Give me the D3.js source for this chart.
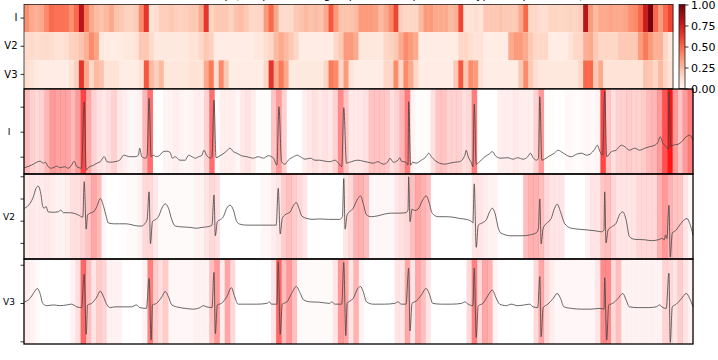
<!DOCTYPE html>
<html>
<head>
<meta charset="utf-8">
<script src="https://cdn.jsdelivr.net/npm/d3@7"></script>
<style>
body{margin:0;background:#fff}
text{font-family:"DejaVu Sans",sans-serif}
</style>
</head>
<body>
<svg id="chart"></svg>
<script>
var screen = {width:718,height:360}

// lead names and the colourbar ticks
var leads = ["I","V2","V3"]
var barTicks = [0,0.25,0.5,0.75,1]

// relevance per time bin (130 bins over 10 s), one array per lead
var heatI = [0.38,0.3,0.28,0.3,0.4,0.5,0.47,0.47,0.46,0.38,
  0.5,0.8,0.45,0.3,0.24,0.22,0.25,0.3,0.22,0.2,
  0.17,0.17,0.19,0.4,0.65,0.1,0.12,0.18,0.18,0.2,
  0.18,0.17,0.18,0.2,0.2,0.3,0.65,0.15,0.2,0.2,
  0.2,0.17,0.22,0.24,0.2,0.15,0.15,0.15,0.35,0.5,
  0.3,0.13,0.13,0.13,0.2,0.22,0.25,0.22,0.24,0.22,
  0.3,0.55,0.35,0.22,0.22,0.22,0.25,0.35,0.35,0.35,
  0.33,0.25,0.3,0.4,0.6,0.18,0.15,0.15,0.15,0.25,
  0.35,0.35,0.3,0.3,0.3,0.25,0.28,0.6,0.1,0.1,
  0.12,0.1,0.2,0.2,0.2,0.22,0.2,0.2,0.2,0.3,
  0.5,0.15,0.15,0.12,0.12,0.16,0.16,0.15,0.16,0.17,
  0.16,0.18,0.8,0.35,0.25,0.3,0.3,0.32,0.3,0.3,
  0.32,0.38,0.4,0.5,0.75,0.97,0.5,0.35,0.5,0.6]
var heatV2 = [0.13,0.14,0.12,0.13,0.14,0.12,0.1,0.1,0.12,0.17,
  0.18,0.22,0.28,0.4,0.32,0.08,0.05,0.05,0.05,0.06,
  0.07,0.07,0.1,0.2,0.2,0.14,0.07,0.07,0.07,0.07,
  0.07,0.07,0.07,0.1,0.1,0.15,0.2,0.17,0.05,0.05,
  0.05,0.05,0.05,0.05,0.05,0.05,0.08,0.08,0.12,0.15,
  0.25,0.3,0.25,0.2,0.15,0.05,0.05,0.05,0.05,0.05,
  0.05,0.05,0.15,0.2,0.35,0.35,0.3,0.08,0.08,0.08,
  0.08,0.08,0.15,0.17,0.2,0.3,0.4,0.35,0.3,0.05,
  0.05,0.05,0.05,0.05,0.05,0.05,0.05,0.15,0.15,0.12,
  0.1,0.1,0.05,0.05,0.05,0.05,0.05,0.3,0.35,0.35,
  0.3,0.2,0.15,0.15,0.15,0.05,0.05,0.05,0.05,0.1,
  0.15,0.15,0.28,0.3,0.2,0.15,0.15,0.15,0.15,0.2,
  0.2,0.2,0.2,0.35,0.45,0.35,0.28,0.28,0.15,0.08]
var heatV3 = [0.12,0.1,0.07,0.05,0.05,0.05,0.05,0.05,0.05,0.1,
  0.18,0.65,0.3,0.15,0.25,0.22,0.1,0.1,0.1,0.05,
  0.05,0.05,0.05,0.1,0.55,0.25,0.18,0.25,0.08,0.08,
  0.08,0.08,0.08,0.1,0.1,0.1,0.3,0.45,0.12,0.4,
  0.2,0.05,0.05,0.05,0.05,0.05,0.05,0.05,0.15,0.65,
  0.3,0.45,0.3,0.07,0.07,0.07,0.07,0.07,0.07,0.07,
  0.15,0.45,0.4,0.15,0.35,0.1,0.05,0.05,0.05,0.05,
  0.05,0.05,0.15,0.15,0.4,0.15,0.4,0.3,0.15,0.05,
  0.05,0.05,0.05,0.05,0.05,0.05,0.2,0.55,0.2,0.4,
  0.35,0.1,0.05,0.05,0.05,0.05,0.05,0.05,0.05,0.2,
  0.4,0.2,0.12,0.08,0.08,0.08,0.08,0.08,0.08,0.08,
  0.08,0.15,0.5,0.5,0.2,0.3,0.1,0.1,0.1,0.1,
  0.1,0.1,0.1,0.1,0.22,0.2,0.15,0.25,0.15,0.1]

// ECG traces as [seconds, mV]
var ecgI = [[0.01,-0.22],[0.14,-0.15],[0.19,-0.11],[0.24,-0.09],[0.29,-0.13],[0.32,-0.11],[0.36,-0.2],[0.41,-0.23],
  [0.49,-0.19],[0.54,-0.22],[0.61,-0.2],[0.66,-0.23],[0.71,-0.17],[0.75,-0.09],[0.79,-0.2],[0.86,-0.23],
  [0.9,1.1],[0.93,-0.27],[0.96,-0.22],[1.04,-0.17],[1.09,-0.13],[1.14,-0.1],[1.2,0],[1.24,-0.1],
  [1.29,-0.11],[1.36,-0.1],[1.43,-0.07],[1.49,0.03],[1.58,0],[1.66,0],[1.71,0.03],[1.73,0.17],
  [1.76,0],[1.82,-0.03],[1.84,0.03],[1.87,1.17],[1.9,0],[1.93,0.03],[1.98,0],[2.03,0.03],
  [2.08,0.1],[2.13,0.11],[2.18,0.09],[2.22,-0.03],[2.26,0],[2.33,-0.07],[2.41,-0.07],[2.46,0.03],
  [2.51,0],[2.56,-0.03],[2.61,0],[2.66,0.03],[2.69,0.13],[2.73,0.03],[2.78,-0.03],[2.81,0],
  [2.84,1.13],[2.87,-0.02],[2.93,0.02],[2.99,0.07],[3.04,0.13],[3.08,0.17],[3.13,0.1],[3.18,0.07],
  [3.25,0.02],[3.33,0],[3.43,-0.03],[3.5,0],[3.58,-0.03],[3.65,0.02],[3.73,-0.03],[3.78,-0.17],
  [3.81,1.0],[3.85,-0.1],[3.9,-0.15],[3.95,-0.07],[4.03,0],[4.08,0.03],[4.13,0],[4.2,-0.05],
  [4.28,-0.03],[4.35,-0.07],[4.42,-0.07],[4.5,-0.09],[4.57,-0.1],[4.65,-0.07],[4.7,-0.13],[4.75,-0.2],
  [4.78,0.98],[4.82,-0.13],[4.87,-0.11],[4.99,-0.07],[5.07,-0.09],[5.14,-0.11],[5.22,-0.13],[5.29,-0.1],
  [5.37,-0.15],[5.44,-0.1],[5.47,-0.03],[5.52,-0.11],[5.59,-0.07],[5.62,-0.02],[5.64,-0.09],[5.71,-0.11],
  [5.74,-0.17],[5.75,1.1],[5.78,-0.17],[5.81,-0.11],[5.86,-0.13],[5.94,-0.07],[6.01,0],[6.05,0.07],
  [6.09,0],[6.14,-0.07],[6.21,-0.13],[6.29,-0.15],[6.36,-0.13],[6.44,-0.11],[6.51,-0.1],[6.59,0.03],
  [6.61,0.13],[6.64,0],[6.69,-0.13],[6.71,-0.2],[6.73,1.05],[6.76,-0.15],[6.81,-0.1],[6.89,0],
  [6.95,0.05],[7.0,0.1],[7.06,0],[7.13,-0.03],[7.23,-0.02],[7.31,-0.05],[7.38,-0.02],[7.46,-0.05],
  [7.53,0],[7.57,0.07],[7.61,-0.02],[7.66,-0.07],[7.69,-0.03],[7.71,1.2],[7.74,-0.07],[7.78,-0.05],
  [7.86,0.02],[7.93,0.07],[7.98,0.13],[8.03,0.1],[8.11,0.03],[8.18,0],[8.26,0.05],[8.33,0.07],
  [8.41,0.03],[8.48,0.07],[8.54,0.17],[8.57,0.23],[8.61,0.1],[8.65,0.03],[8.68,1.31],[8.71,0],
  [8.78,0.1],[8.85,0.13],[8.93,0.23],[8.98,0.2],[9.05,0.13],[9.13,0.17],[9.2,0.13],[9.28,0.17],
  [9.35,0.2],[9.43,0.23],[9.48,0.3],[9.51,0.4],[9.55,0.27],[9.6,0.2],[9.63,0.15],[9.64,1.31],
  [9.67,0.2],[9.7,0.23],[9.78,0.25],[9.83,0.3],[9.9,0.4],[9.95,0.43],[10.0,0.33]]
var ecgV2 = [[0.01,0.28],[0.09,0.39],[0.14,0.54],[0.18,0.73],[0.21,0.78],[0.25,0.62],[0.28,0.32],[0.3,0.28],
  [0.33,0.32],[0.36,0.2],[0.44,0.19],[0.51,0.2],[0.55,0.24],[0.59,0.18],[0.66,0.18],[0.74,0.17],
  [0.81,0.13],[0.88,0.08],[0.9,0.88],[0.93,-0.19],[0.95,0.13],[0.99,0.17],[1.04,0.2],[1.09,0.32],
  [1.14,0.5],[1.19,0.32],[1.23,0.09],[1.26,-0.05],[1.34,-0.07],[1.43,-0.07],[1.53,-0.07],[1.63,-0.1],
  [1.71,-0.12],[1.76,-0.12],[1.81,-0.06],[1.84,0.02],[1.87,0.65],[1.89,-0.52],[1.92,-0.02],[1.96,0.02],
  [2.01,0.09],[2.06,0.28],[2.11,0.38],[2.16,0.28],[2.21,0.02],[2.26,-0.12],[2.36,-0.14],[2.48,-0.15],
  [2.58,-0.17],[2.66,-0.15],[2.73,-0.14],[2.81,-0.1],[2.84,0.58],[2.86,-0.34],[2.89,-0.02],[2.93,0.02],
  [2.98,0.09],[3.03,0.28],[3.08,0.35],[3.13,0.24],[3.18,-0.02],[3.23,-0.08],[3.33,-0.1],[3.43,-0.1],
  [3.53,-0.1],[3.63,-0.1],[3.71,-0.1],[3.77,-0.1],[3.8,0.73],[3.83,-0.3],[3.86,0.05],[3.9,0.13],
  [3.98,0.2],[4.03,0.35],[4.07,0.41],[4.11,0.28],[4.15,0.11],[4.23,0.05],[4.32,0.03],[4.42,0.04],
  [4.55,0.03],[4.62,0.03],[4.72,0.03],[4.76,0.09],[4.78,0.95],[4.8,-0.19],[4.83,0.13],[4.92,0.28],
  [4.99,0.5],[5.03,0.56],[5.07,0.39],[5.12,0.13],[5.19,0.09],[5.29,0.11],[5.39,0.15],[5.49,0.17],
  [5.59,0.17],[5.71,0.18],[5.74,0.24],[5.75,0.99],[5.77,-0.02],[5.8,0.26],[5.84,0.23],[5.89,0.26],
  [5.96,0.47],[6.01,0.56],[6.06,0.39],[6.1,0.17],[6.19,0.09],[6.29,0.09],[6.41,0.08],[6.51,0.05],
  [6.61,0.03],[6.69,-0.02],[6.71,-0.05],[6.73,0.83],[6.76,-0.6],[6.79,-0.1],[6.85,-0.05],[6.91,0.02],
  [6.96,0.2],[7.0,0.28],[7.04,0.17],[7.09,-0.17],[7.13,-0.28],[7.28,-0.34],[7.43,-0.34],[7.56,-0.32],
  [7.66,-0.27],[7.69,-0.17],[7.71,0.49],[7.73,-0.52],[7.76,-0.17],[7.81,-0.06],[7.88,0.05],[7.93,0.28],
  [7.97,0.37],[8.02,0.2],[8.08,-0.06],[8.18,-0.17],[8.28,-0.19],[8.43,-0.21],[8.55,-0.23],[8.63,-0.25],
  [8.67,-0.21],[8.68,0.65],[8.7,-0.5],[8.73,-0.21],[8.78,-0.14],[8.85,-0.06],[8.9,0.13],[8.95,0.2],
  [9.0,0.02],[9.05,-0.36],[9.13,-0.42],[9.28,-0.43],[9.38,-0.45],[9.48,-0.43],[9.54,-0.4],[9.57,-0.43],
  [9.59,-0.32],[9.61,-0.4],[9.64,0.35],[9.66,-0.82],[9.69,-0.28],[9.75,-0.21],[9.8,-0.1],[9.87,0.02],
  [9.91,0.05],[9.95,-0.06],[10.0,-0.32]]
var ecgV3 = [[0.01,0.03],[0.09,0.12],[0.14,0.25],[0.2,0.38],[0.24,0.25],[0.28,-0.01],[0.34,-0.07],[0.44,-0.05],
  [0.54,-0.07],[0.64,-0.05],[0.71,-0.03],[0.79,-0.1],[0.86,-0.12],[0.9,0.75],[0.93,-0.82],[0.95,-0.05],
  [1.01,-0.01],[1.09,0.16],[1.14,0.31],[1.19,0.16],[1.24,-0.05],[1.29,-0.12],[1.36,-0.1],[1.48,-0.1],
  [1.61,-0.1],[1.68,-0.05],[1.73,-0.12],[1.83,-0.14],[1.87,0.64],[1.9,-0.97],[1.92,-0.05],[1.98,-0.01],
  [2.06,0.16],[2.11,0.3],[2.16,0.16],[2.21,-0.05],[2.28,-0.1],[2.41,-0.14],[2.53,-0.16],[2.63,-0.12],
  [2.68,-0.07],[2.73,-0.1],[2.81,-0.12],[2.84,0.8],[2.86,-0.8],[2.89,-0.05],[2.95,-0.01],[3.03,0.16],
  [3.1,0.4],[3.15,0.16],[3.2,-0.03],[3.33,-0.03],[3.48,-0.03],[3.63,-0.01],[3.67,0.03],[3.7,-0.03],
  [3.78,-0.03],[3.8,1.08],[3.83,-0.82],[3.86,-0.03],[3.93,0.03],[4.0,0.25],[4.07,0.43],[4.13,0.25],
  [4.18,0.08],[4.28,0.03],[4.42,0.02],[4.57,-0.01],[4.6,0.03],[4.65,-0.03],[4.75,-0.03],[4.78,1.06],
  [4.81,-0.85],[4.83,-0.01],[4.92,0.12],[4.99,0.38],[5.03,0.43],[5.07,0.3],[5.12,0.03],[5.22,-0.03],
  [5.39,-0.03],[5.54,-0.01],[5.59,0.03],[5.64,-0.03],[5.71,-0.03],[5.75,0.91],[5.77,-0.73],[5.8,-0.01],
  [5.86,0.05],[5.94,0.21],[6.01,0.38],[6.06,0.23],[6.11,-0.01],[6.24,-0.03],[6.39,-0.03],[6.54,-0.01],
  [6.59,0.03],[6.64,-0.03],[6.71,-0.07],[6.73,0.91],[6.76,-0.9],[6.79,-0.07],[6.86,-0.01],[6.94,0.21],
  [7.0,0.34],[7.05,0.16],[7.11,-0.03],[7.21,-0.07],[7.28,-0.03],[7.38,-0.07],[7.48,-0.05],[7.56,-0.03],
  [7.61,-0.1],[7.68,-0.12],[7.71,0.69],[7.73,-0.88],[7.76,-0.12],[7.83,-0.03],[7.91,0.12],[7.97,0.25],
  [8.02,0.12],[8.07,-0.1],[8.18,-0.14],[8.33,-0.16],[8.48,-0.16],[8.61,-0.14],[8.67,-0.16],[8.68,0.66],
  [8.71,-0.97],[8.74,-0.05],[8.8,-0.01],[8.88,0.12],[8.95,0.25],[9.0,0.08],[9.05,-0.1],[9.18,-0.12],
  [9.33,-0.12],[9.45,-0.1],[9.5,-0.05],[9.55,-0.12],[9.6,-0.14],[9.64,0.78],[9.66,-1.03],[9.69,-0.1],
  [9.75,-0.03],[9.83,0.12],[9.9,0.25],[9.95,0.12],[10.0,-0.1]]

var heatRows = [heatI,heatV2,heatV3]
var ecgRows = [ecgI,ecgV2,ecgV3]

// y domains (mV) and tick marks of the three ECG panels
var ecgDomains = [[-0.346,1.354],[-0.863,1.052],[-1.07,1.149]]
var ecgTicks = [[0,0.5,1],[-0.5,0,0.5,1],[-1,0,1]]
// relevance below which a panel background stays white
var shadeFloor = [0.14,0.05,0.05]

var svg = d3.select("#chart")
  .attr("width",screen.width)
  .attr("height",screen.height)

var nBins = heatI.length
var binWidth = 10/nBins

var drawTitle = function()
{
    svg.append("text")
       .attr("x",365)
       .attr("y",-1.5)
       .attr("text-anchor","middle")
       .style("font-size","11px")
       .text("Relevance map (sample 1, lead group I, V2, V3, predicted: typ ANT, prob. 0.93)")
}

var drawHeatmap = function()
{
    var xScale = d3.scaleLinear().domain([0,10]).range([24,673])
    var yScale = d3.scaleBand().domain(leads).range([4,88.5])
    var color = d3.scaleSequential(d3.interpolateReds).domain([0,1])

    var g = svg.append("g").attr("id","heat")

    g.selectAll("g.row")
     .data(heatRows)
     .enter()
     .append("g")
     .attr("class","row")
     .each(function(row,r)
     {
        d3.select(this)
          .selectAll("rect")
          .data(row)
          .enter()
          .append("rect")
          .attr("x",function(v,i){return xScale(i*binWidth)})
          .attr("y",yScale(leads[r]))
          .attr("width",xScale(binWidth)-xScale(0)+0.4)
          .attr("height",yScale.bandwidth())
          .attr("fill",function(v){return color(v)})
     })

    g.append("rect")
     .attr("x",24).attr("y",4.5)
     .attr("width",649).attr("height",84)
     .attr("fill","none")
     .attr("stroke","#222")
     .attr("stroke-width",0.8)

    var yAxis = d3.axisLeft(yScale).tickSize(3.5).tickPadding(3)
    g.append("g")
     .attr("transform","translate(24,0)")
     .call(yAxis)
     .call(styleAxis)
     .selectAll("text")
     .style("font-size","10px")

    // colourbar
    var barScale = d3.scaleLinear().domain([0,1]).range([88.5,4.5])
    var defs = svg.append("defs")
    var grad = defs.append("linearGradient")
       .attr("id","reds")
       .attr("x1","0").attr("y1","1").attr("x2","0").attr("y2","0")
    grad.selectAll("stop")
        .data(d3.range(0,1.01,0.1))
        .enter()
        .append("stop")
        .attr("offset",function(d){return d})
        .attr("stop-color",function(d){return color(d)})
    g.append("rect")
     .attr("x",679).attr("y",4.5)
     .attr("width",6).attr("height",84)
     .attr("fill","url(#reds)")
     .attr("stroke","#222")
     .attr("stroke-width",0.8)
    g.append("g")
     .attr("transform","translate(685,0)")
     .call(d3.axisRight(barScale).tickValues(barTicks).tickFormat(d3.format(".2f")).tickSize(3.5).tickPadding(2.5))
     .call(styleAxis)
     .selectAll("text")
     .style("font-size","11px")
}

var styleAxis = function(sel)
{
    sel.select(".domain").remove()
    sel.selectAll("line").attr("stroke","#000").attr("stroke-width",0.8)
    sel.selectAll("text").attr("fill","#000")
}

var drawPanels = function()
{
    var xScale = d3.scaleLinear().domain([0,10]).range([24,693])
    var tops = [89,174,259]
    var h = 85

    tops.forEach(function(top,r)
    {
        var yScale = d3.scaleLinear().domain(ecgDomains[r]).range([top+h,top])
        var shade = d3.scaleLinear().domain([shadeFloor[r],1]).range([0,0.95]).clamp(true)
        var g = svg.append("g").attr("class","panel")

        g.selectAll("rect.shade")
         .data(heatRows[r])
         .enter()
         .append("rect")
         .attr("class","shade")
         .attr("x",function(v,i){return xScale(i*binWidth)})
         .attr("y",top)
         .attr("width",xScale(binWidth)-xScale(0)+0.3)
         .attr("height",h)
         .attr("fill","#ff0000")
         .attr("fill-opacity",function(v){return shade(v)})

        var line = d3.line()
          .x(function(p){return xScale(p[0])})
          .y(function(p){return yScale(p[1])})
          .curve(d3.curveMonotoneX)

        g.append("path")
         .datum(ecgRows[r])
         .attr("d",line)
         .attr("fill","none")
         .attr("stroke","#444")
         .attr("stroke-opacity",0.9)
         .attr("stroke-width",0.9)

        g.append("g")
         .attr("transform","translate(24,0)")
         .call(d3.axisLeft(yScale).tickValues(ecgTicks[r]).tickFormat("").tickSize(3.5))
         .call(styleAxis)

        g.append("text")
         .attr("x",9)
         .attr("y",top+h/2+3)
         .attr("text-anchor","middle")
         .style("font-size","9px")
         .text(leads[r])

        g.append("rect")
         .attr("x",24).attr("y",top)
         .attr("width",669).attr("height",h)
         .attr("fill","none")
         .attr("stroke","#000")
         .attr("stroke-width",1.3)
    })
}

drawTitle()
drawHeatmap()
drawPanels()
</script>
</body>
</html>
